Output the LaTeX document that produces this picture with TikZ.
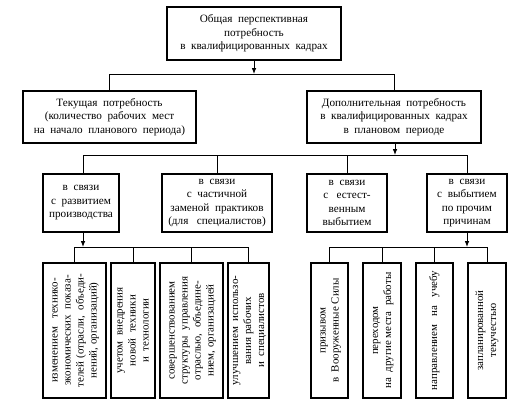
\documentclass[tikz,border=0pt]{standalone}
\usepackage{fontspec}
\setmainfont{Liberation Serif}
\usetikzlibrary{arrows.meta}
\tikzset{
  box/.style={draw, line width=1pt, inner sep=0pt, align=center, font=\fontsize{8.4}{10.1}\selectfont},
  conn/.style={line width=0.75pt},
  arr/.style={conn, -{Latex[length=4.5pt,width=3.5pt]}},
}
\newcommand{\vtext}[1]{\rotatebox{90}{\fontsize{8.2}{9.8}\selectfont\begin{tabular}{@{}c@{}}#1\end{tabular}}}
\begin{document}
\begin{tikzpicture}[x=0.75pt,y=-0.75pt]
\useasboundingbox (0,0) rectangle (528,411);
% level 1
\node[box, minimum width=174*0.75pt, minimum height=53*0.75pt] (top) at (254,33.5)
  {Общая\ \ перспективная\\потребность\\в\ \ квалифицированных\ \ кадрах};
% level 2
\node[box, minimum width=173*0.75pt, minimum height=52*0.75pt] (cur) at (109.5,117)
  {Текущая\ \ потребность\\(количество\ \ рабочих\ \ мест\\на\ \ начало\ \ планового\ \ периода)};
\node[box, minimum width=174*0.75pt, minimum height=52*0.75pt] (add) at (394,117)
  {Дополнительная\ \ потребность\\в\ \ квалифицированных\ \ кадрах\\в\ \ плановом\ \ периоде};
% level 3
\node[box, minimum width=76*0.75pt, minimum height=58*0.75pt] (b1) at (81,203)
  {в\ \ связи\\с\ \ развитием\\производства};
\node[box, minimum width=110*0.75pt, minimum height=58*0.75pt] (b2) at (217,203)
  {в\ \ связи\\с\ \ частичной\\заменой\ \ практиков\\(для\ \ \ специалистов)};
\node[box, minimum width=80*0.75pt, minimum height=58*0.75pt] (b3) at (347,203)
  {в\ \ связи\\с\ \ \ естест-\\венным\\выбытием};
\node[box, minimum width=80*0.75pt, minimum height=58*0.75pt] (b4) at (467,203)
  {в\ \ связи\\с\ \ выбытием\\по\ прочим\\причинам};
% level 4
\node[box, minimum width=63*0.75pt, minimum height=135*0.75pt] (c1) at (74.5,330.5)
  {\vtext{изменением\ \ \ технико-\\экономических\ \ показа-\\телей\ (отрасли,\ \ объеди-\\нений,\ организаций)}};
\node[box, minimum width=44*0.75pt, minimum height=135*0.75pt] (c2) at (133,330.5)
  {\vtext{учетом\ \ внедрения\\новой\ \ техники\\и\ \ технологии}};
\node[box, minimum width=63*0.75pt, minimum height=135*0.75pt] (c3) at (191.5,330.5)
  {\vtext{совершенствованием\\структуры\ \ управления\\отраслью,\ \ объедине-\\нием,\ организацией}};
\node[box, minimum width=41*0.75pt, minimum height=135*0.75pt] (c4) at (248.5,330.5)
  {\vtext{улучшением\ \ использо-\\вания\ рабочих\\и\ \ специалистов}};
\node[box, minimum width=37*0.75pt, minimum height=135*0.75pt] (d1) at (329.5,330.5)
  {\vtext{призывом\\в\ \ Вооруженные\ Силы}};
\node[box, minimum width=38*0.75pt, minimum height=135*0.75pt] (d2) at (382,330.5)
  {\vtext{переходом\\на\ \ другие\ места\ \ работы}};
\node[box, minimum width=37*0.75pt, minimum height=135*0.75pt] (d3) at (434.5,330.5)
  {\vtext{направлением\ \ \ на\ \ \ учебу}};
\node[box, minimum width=38*0.75pt, minimum height=135*0.75pt] (d4) at (487,330.5)
  {\vtext{запланированной\\текучестью}};
% junctions
\coordinate (j1) at (254,74);
\coordinate (j2) at (395,155);
\coordinate (j3) at (83,247);
\coordinate (j4) at (467,247);
% connectors
\draw[arr] (top.south) -- (j1);
\draw[conn] (j1) -| (cur.north);
\draw[conn] (j1) -| (add.north);
\draw[arr] (add.south -| j2) -- (j2);
\draw[conn] (j2) -| (b1.north -| j3);
\draw[conn] (j2) -| (b2.north);
\draw[conn] (j2) -| (b3.north);
\draw[conn] (j2) -| (b4.north);
\draw[arr] (b1.south -| j3) -- (j3);
\draw[conn] (j3) -| (c1.north);
\draw[conn] (j3) -| (c2.north);
\draw[conn] (j3) -| (c3.north);
\draw[conn] (j3) -| (c4.north);
\draw[arr] (b4.south) -- (j4);
\draw[conn] (j4) -| (d1.north);
\draw[conn] (j4) -| (d2.north);
\draw[conn] (j4) -| (d3.north);
\draw[conn] (j4) -| (d4.north);
\end{tikzpicture}
\end{document}
